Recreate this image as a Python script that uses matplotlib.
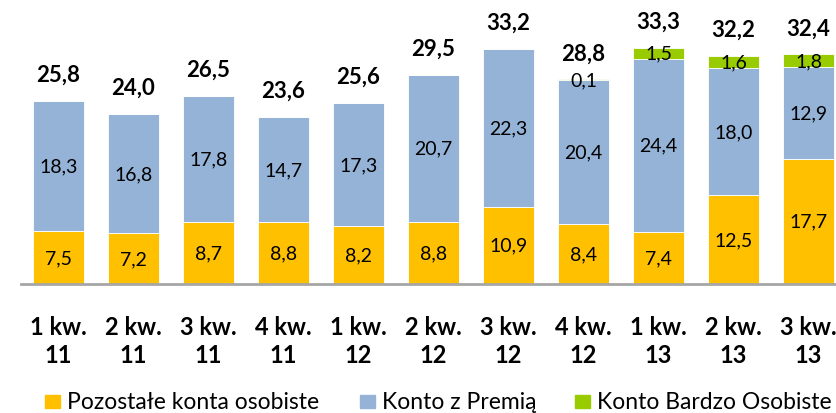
import matplotlib
matplotlib.use("Agg")
import matplotlib.pyplot as plt
from matplotlib.patches import Rectangle

# Dane z wykresu (mld zł)
kwartaly = ["1 kw.\n11", "2 kw.\n11", "3 kw.\n11", "4 kw.\n11", "1 kw.\n12", "2 kw.\n12",
            "3 kw.\n12", "4 kw.\n12", "1 kw.\n13", "2 kw.\n13", "3 kw.\n13"]
pozostale = [7.5, 7.2, 8.7, 8.8, 8.2, 8.8, 10.9, 8.4, 7.4, 12.5, 17.7]
premia = [18.3, 16.8, 17.8, 14.7, 17.3, 20.7, 22.3, 20.4, 24.4, 18.0, 12.9]
bardzo_osobiste = [0, 0, 0, 0, 0, 0, 0, 0.1, 1.5, 1.6, 1.8]
sumy = [25.8, 24.0, 26.5, 23.6, 25.6, 29.5, 33.2, 28.8, 33.3, 32.2, 32.4]

serie = ["Pozostałe konta osobiste", "Konto z Premią", "Konto Bardzo Osobiste"]
kolory = ["#FFC000", "#95B3D7", "#99CC00"]

plt.rcParams["font.family"] = ["Lato", "DejaVu Sans"]

W, H = 836, 414
fig = plt.figure(figsize=(W / 100, H / 100), dpi=100)
# oś: lewa krawędź 21 px, linia bazowa 285 px od góry
ax = fig.add_axes([21 / W, (H - 285) / H, 1 - 21 / W, 285 / H])
ax.set_xlim(-0.5, -0.5 + (W - 21) / 75)
ax.set_ylim(0, 285 / 7.09)

x = list(range(len(kwartaly)))
dol2 = pozostale
dol3 = [a + b for a, b in zip(pozostale, premia)]
ax.bar(x, pozostale, width=0.667, color=kolory[0], edgecolor="white", linewidth=0.6)
ax.bar(x, premia, width=0.667, bottom=dol2, color=kolory[1], edgecolor="white", linewidth=0.6)
ax.bar(x, bardzo_osobiste, width=0.667, bottom=dol3, color=kolory[2], edgecolor="white", linewidth=0.6)

def fmt(v):
    return f"{v:.1f}".replace(".", ",")

for i in x:
    ax.text(i, pozostale[i] / 2, fmt(pozostale[i]), ha="center", va="center", fontsize=14)
    ax.text(i, dol2[i] + premia[i] / 2, fmt(premia[i]), ha="center", va="center", fontsize=14)
    if bardzo_osobiste[i] > 0:
        ax.text(i, dol3[i] + bardzo_osobiste[i] / 2, fmt(bardzo_osobiste[i]),
                ha="center", va="center", fontsize=14)
    ax.annotate(fmt(sumy[i]), (i, sumy[i]), xytext=(0, 20), textcoords="offset pixels",
                ha="center", va="baseline", fontsize=16, fontweight="bold")

ax.set_xticks(x)
ax.set_xticklabels(kwartaly, fontsize=17, fontweight="bold", linespacing=1.3)
ax.tick_params(axis="x", length=0, pad=22)
ax.set_yticks([])
for s in ["top", "right", "left"]:
    ax.spines[s].set_visible(False)
ax.spines["bottom"].set_color("#A6A6A6")
ax.spines["bottom"].set_linewidth(2)

# legenda na dole
leg_x = [45, 360, 575]
for kx, nazwa, kol in zip(leg_x, serie, kolory):
    fig.patches.append(Rectangle((kx / W, (H - 409) / H), 15 / W, 13 / H,
                                 transform=fig.transFigure, color=kol))
    fig.text((kx + 22) / W, (H - 409) / H, nazwa, fontsize=16.5, va="baseline", ha="left")

fig.savefig("out.png", dpi=100)
